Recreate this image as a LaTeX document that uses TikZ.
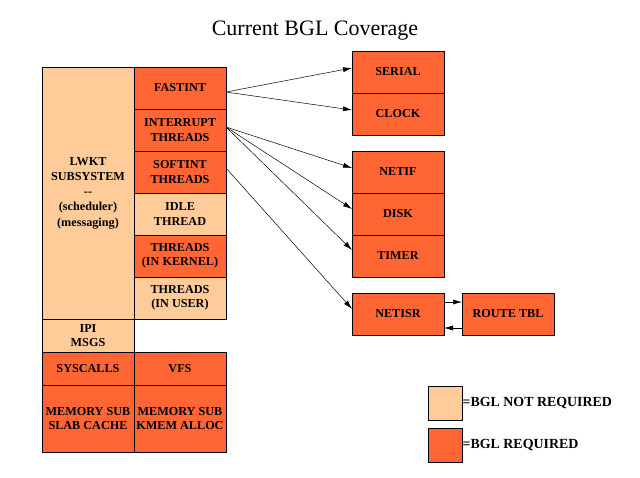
\documentclass[tikz,border=0pt]{standalone}
\usepackage{fontspec}
\setmainfont{Liberation Serif}
\usepackage{tikz}
\usetikzlibrary{positioning, arrows.meta}
\definecolor{bglyes}{HTML}{FF6633}
\definecolor{bglno}{HTML}{FFCC99}

\begin{document}
\begin{tikzpicture}[
    x=1pt, y=-1pt,
    box/.style={draw, line width=0.8pt, align=center, inner sep=0pt, outer sep=0pt,
      minimum width=92pt, minimum height=42pt,
      font=\rmfamily\bfseries\fontsize{12.2}{14.5}\selectfont},
    req/.style={box, fill=bglyes},
    noreq/.style={box, fill=bglno},
    link/.style={-{Latex[length=9pt, width=5pt]}, line width=0.5pt}
]
\useasboundingbox (0,0) rectangle (640,477);
\node[font=\rmfamily\fontsize{22}{26}\selectfont] (title) at (315,31) {Current BGL Coverage};

  % Kernel stack
  \node[noreq, minimum height=252pt, anchor=north west] (lwkt) at (42,67)
    {LWKT\\[0.8pt]SUBSYSTEM\\[0.8pt]{-}{-}\\[0.8pt](scheduler)\\[0.8pt](messaging)};
  \node[req, anchor=north west] (fastint) at (134,67) {FASTINT};
  \node[req, below=0pt of fastint] (intr) {INTERRUPT\\THREADS};
  \node[req, below=0pt of intr] (softint) {SOFTINT\\THREADS};
  \node[noreq, below=0pt of softint] (idle) {IDLE\\THREAD};
  \node[req, below=0pt of idle] (kthreads) {THREADS\\(IN KERNEL)};
  \node[noreq, below=0pt of kthreads] (uthreads) {THREADS\\(IN USER)};
  \node[noreq, minimum height=33pt, below=0pt of lwkt] (ipi) {IPI\\MSGS};
  \node[req, minimum height=33pt, below=0pt of ipi] (syscalls) {SYSCALLS};
  \node[req, minimum height=33pt, right=0pt of syscalls] (vfs) {VFS};
  \node[req, minimum height=67pt, below=0pt of syscalls] (slab) {MEMORY SUB\\SLAB CACHE};
  \node[req, minimum height=67pt, right=0pt of slab] (kmem) {MEMORY SUB\\KMEM ALLOC};

  % Subsystems
  \node[req, anchor=north west] (serial) at (352,51) {SERIAL};
  \node[req, below=0pt of serial] (clock) {CLOCK};
  \node[req, anchor=north west] (netif) at (352,151) {NETIF};
  \node[req, below=0pt of netif] (disk) {DISK};
  \node[req, below=0pt of disk] (timer) {TIMER};
  \node[req, anchor=north west] (netisr) at (352,293) {NETISR};
  \node[req, right=18pt of netisr] (route) {ROUTE TBL};

\draw[link] ([yshift=-4pt]fastint.east) -- ([yshift=4pt]serial.west);
\draw[link] ([yshift=-4pt]fastint.east) -- ([yshift=4pt]clock.west);
\draw[link] ([yshift=3pt]intr.east) -- ([yshift=4pt]netif.west);
\draw[link] ([yshift=3pt]intr.east) -- ([yshift=5pt]disk.west);
\draw[link] ([yshift=3pt]intr.east) -- ([yshift=6pt]timer.west);
\draw[link] ([yshift=4pt]softint.east) -- ([yshift=5pt]netisr.west);
\draw[link] ([yshift=12pt]netisr.east) -- ([yshift=12pt]route.west);
\draw[link] ([yshift=-14pt]route.west) -- ([yshift=-14pt]netisr.east);

  % Legend
  \node[noreq, minimum width=34pt, minimum height=34pt, anchor=north west] (keyno) at (428,386) {};
  \node[req, minimum width=34pt, minimum height=34pt, below=8pt of keyno] (keyyes) {};
  \node[right=0pt of keyno, inner sep=0.5pt, font=\rmfamily\bfseries\fontsize{13.9}{16}\selectfont] (keynotext) {=BGL NOT REQUIRED};
  \node[right=0pt of keyyes, inner sep=0.5pt, font=\rmfamily\bfseries\fontsize{13.9}{16}\selectfont] (keyyestext) {=BGL REQUIRED};
\end{tikzpicture}
\end{document}
